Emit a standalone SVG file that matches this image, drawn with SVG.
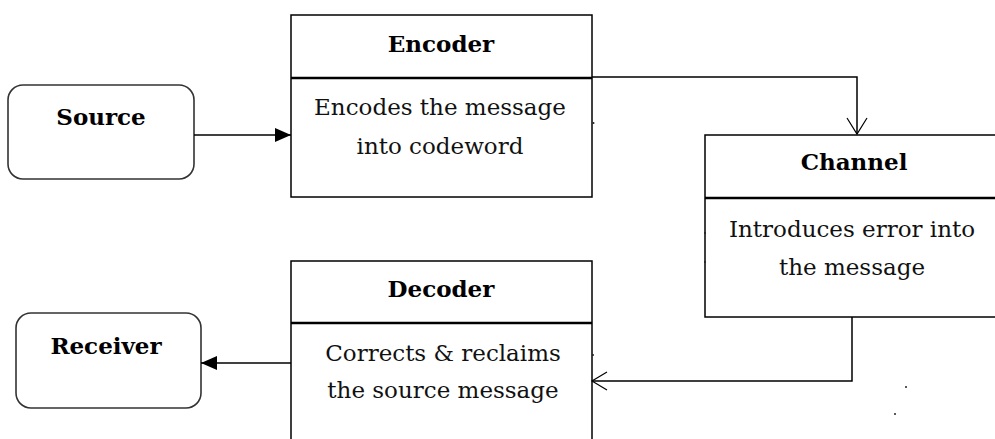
<svg xmlns="http://www.w3.org/2000/svg" width="995" height="439" viewBox="0 0 995 439">
<defs>
<style>
.box{fill:#fff;stroke:#000;stroke-width:1.5}
.rbox{fill:#fff;stroke:#333;stroke-width:1.6}
.div{stroke:#000;stroke-width:2.5}
.hd{font-family:"DejaVu Serif",serif;font-weight:bold;font-size:23px;fill:#000;text-anchor:middle}
.tx{font-family:"DejaVu Serif",serif;font-size:23px;fill:#111;text-anchor:middle}
.ln{fill:none;stroke:#000;stroke-width:1.5}
.open{fill:none;stroke:#000;stroke-width:1.2}
.dot{fill:#222}
</style>
<marker id="filled" markerWidth="16" markerHeight="14" refX="16" refY="7" orient="auto" markerUnits="userSpaceOnUse">
<path d="M0,0 L16,7 L0,14 Z" fill="#000"/>
</marker>
</defs>
<rect width="995" height="439" fill="#fff"/>
<g id="source">
<rect class="rbox" x="8" y="85" width="186" height="94" rx="15"/>
<text class="hd" x="101" y="125">Source</text>
</g>
<g id="encoder">
<rect class="box" x="291" y="15" width="301" height="182"/>
<line class="div" x1="291" y1="78" x2="592" y2="78"/>
<text class="hd" x="441" y="52">Encoder</text>
<text class="tx" x="440" y="115">Encodes the message</text>
<text class="tx" x="440" y="154">into codeword</text>
</g>
<g id="channel">
<rect class="box" x="705" y="135" width="296" height="182"/>
<line class="div" x1="705" y1="198" x2="1001" y2="198"/>
<text class="hd" x="854" y="170">Channel</text>
<text class="tx" x="852" y="237">Introduces error into</text>
<text class="tx" x="852" y="275">the message</text>
</g>
<g id="decoder">
<rect class="box" x="291" y="261" width="301" height="190"/>
<line class="div" x1="291" y1="323" x2="592" y2="323"/>
<text class="hd" x="441" y="297">Decoder</text>
<text class="tx" x="443" y="361">Corrects &amp; reclaims</text>
<text class="tx" x="443" y="398">the source message</text>
</g>
<g id="receiver">
<rect class="rbox" x="16" y="313" width="185" height="95" rx="15"/>
<text class="hd" x="106" y="354">Receiver</text>
</g>
<g id="connectors">
<line class="ln" x1="194" y1="135" x2="291" y2="135" marker-end="url(#filled)"/>
<polyline class="ln" points="592,77 857,77 857,134"/>
<polyline class="open" points="847,118 857,134 867,118"/>
<polyline class="ln" points="852,317 852,381 592,381"/>
<polyline class="open" points="607,372 592,381 607,390"/>
<line class="ln" x1="291" y1="363" x2="201" y2="363" marker-end="url(#filled)"/>
</g>
<g id="specks">
<circle class="dot" cx="593.5" cy="123" r="1"/>
<circle class="dot" cx="705" cy="233" r="1"/>
<circle class="dot" cx="705" cy="262" r="1"/>
<circle class="dot" cx="593" cy="355" r="1"/>
<circle class="dot" cx="906" cy="387" r="1"/>
<circle class="dot" cx="895" cy="414" r="1"/>
</g>
</svg>
